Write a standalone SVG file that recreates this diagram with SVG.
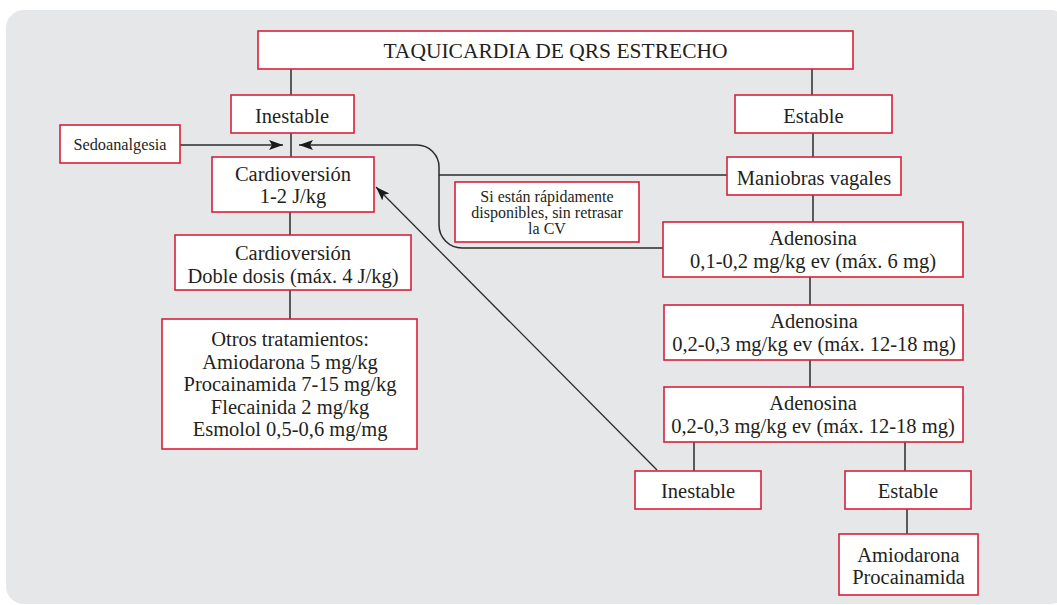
<svg xmlns="http://www.w3.org/2000/svg" width="1057" height="605" viewBox="0 0 1057 605">
<style>
.box{fill:#ffffff;stroke:#d7213b;stroke-width:1.6}
.t{font-family:"Liberation Serif","Times New Roman",serif;font-size:20.5px;fill:#231f20;text-anchor:middle}
.s{font-size:16.3px}
.n{font-size:16px}
.ti{font-size:21.5px}
.c{fill:none;stroke:#2b2b2b;stroke-width:1.5}
</style>
<defs>
<marker id="ah" markerUnits="userSpaceOnUse" markerWidth="15" markerHeight="11" refX="14" refY="5" orient="auto">
<path d="M0,0 L14,5 L0,10 L3,5 z" fill="#1a1a1a"/>
</marker>
</defs>
<rect x="6" y="10" width="1062" height="594" rx="18" fill="#e6e7e9"/>
<g id="connectors">
<path class="c" d="M291 69 V95"/>
<path class="c" d="M812 69 V95"/>
<path class="c" d="M291 133 V157"/>
<path class="c" d="M813 133 V157"/>
<path class="c" d="M813 195 V222"/>
<path class="c" d="M810 277 V305"/>
<path class="c" d="M810 360 V387"/>
<path class="c" d="M694 442 V471"/>
<path class="c" d="M905 442 V471"/>
<path class="c" d="M907 509 V534"/>
<path class="c" d="M290 212 V235"/>
<path class="c" d="M290 290 V319"/>
<path class="c" d="M180 145 H283" marker-end="url(#ah)"/>
<path class="c" d="M663 248 H462 A23 23 0 0 1 439 225 V167 A22 22 0 0 0 417 145 H299" marker-end="url(#ah)"/>
<path class="c" d="M727 175 H439"/>
<path class="c" style="stroke-width:1.3" d="M657 470 L376 187" marker-end="url(#ah)"/>
</g>
<g id="title">
<rect class="box" x="258" y="31" width="595" height="38"/>
<text class="t ti" x="555.5" y="58">TAQUICARDIA DE QRS ESTRECHO</text>
</g>
<g id="inestable1">
<rect class="box" x="231" y="95" width="123" height="38"/>
<text class="t" x="292" y="122.5">Inestable</text>
</g>
<g id="estable1">
<rect class="box" x="735" y="95" width="157" height="38"/>
<text class="t" x="813.5" y="122.5">Estable</text>
</g>
<g id="sedoanalgesia">
<rect class="box" x="60" y="125" width="120" height="38"/>
<text class="t s" x="120" y="150">Sedoanalgesia</text>
</g>
<g id="cardioversion1">
<rect class="box" x="212" y="157" width="162" height="55"/>
<text class="t" x="293" y="181">Cardioversión</text>
<text class="t" x="293" y="203">1-2 J/kg</text>
</g>
<g id="maniobras">
<rect class="box" x="727" y="157" width="174" height="38"/>
<text class="t" x="814" y="185">Maniobras vagales</text>
</g>
<g id="nota">
<rect class="box" x="455" y="182" width="184" height="60"/>
<text class="t n" x="547" y="201.5">Si están rápidamente</text>
<text class="t n" x="547" y="217.5">disponibles, sin retrasar</text>
<text class="t n" x="547" y="233.5">la CV</text>
</g>
<g id="cardioversion2">
<rect class="box" x="175" y="235" width="236" height="55"/>
<text class="t" x="293" y="260">Cardioversión</text>
<text class="t" x="293" y="283">Doble dosis (máx. 4 J/kg)</text>
</g>
<g id="adenosina1">
<rect class="box" x="663" y="222" width="300" height="55"/>
<text class="t" x="813" y="245">Adenosina</text>
<text class="t" x="813" y="268">0,1-0,2 mg/kg ev (máx. 6 mg)</text>
</g>
<g id="adenosina2">
<rect class="box" x="664" y="305" width="299" height="55"/>
<text class="t" x="814" y="328">Adenosina</text>
<text class="t" x="814" y="351">0,2-0,3 mg/kg ev (máx. 12-18 mg)</text>
</g>
<g id="otros">
<rect class="box" x="162" y="319" width="255" height="130"/>
<text class="t" x="290" y="346">Otros tratamientos:</text>
<text class="t" x="290" y="368.5">Amiodarona 5 mg/kg</text>
<text class="t" x="290" y="391">Procainamida 7-15 mg/kg</text>
<text class="t" x="290" y="413.5">Flecainida 2 mg/kg</text>
<text class="t" x="290" y="436">Esmolol 0,5-0,6 mg/mg</text>
</g>
<g id="adenosina3">
<rect class="box" x="664" y="387" width="299" height="55"/>
<text class="t" x="813" y="410">Adenosina</text>
<text class="t" x="813" y="433">0,2-0,3 mg/kg ev (máx. 12-18 mg)</text>
</g>
<g id="inestable2">
<rect class="box" x="635" y="471" width="126" height="38"/>
<text class="t" x="698" y="498">Inestable</text>
</g>
<g id="estable2">
<rect class="box" x="845" y="471" width="126" height="38"/>
<text class="t" x="908" y="498">Estable</text>
</g>
<g id="amiodarona">
<rect class="box" x="839" y="534" width="139" height="61"/>
<text class="t" x="908.5" y="562">Amiodarona</text>
<text class="t" x="908.5" y="584">Procainamida</text>
</g>
</svg>
